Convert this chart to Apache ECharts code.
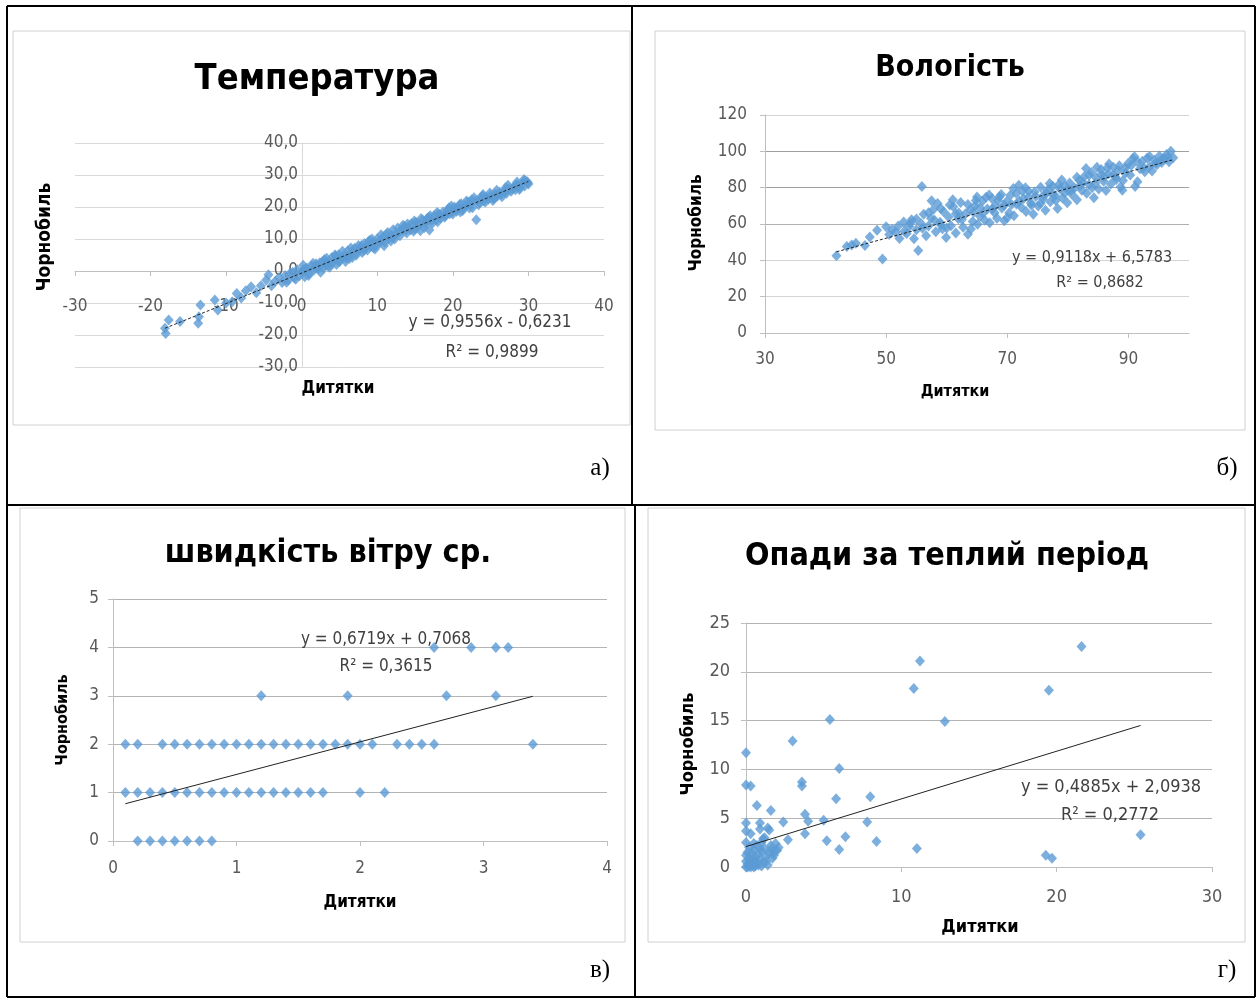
<!DOCTYPE html>
<html>
<head>
<meta charset="utf-8">
<title>Дитятки — Чорнобиль</title>
<script src="https://cdn.jsdelivr.net/npm/echarts@6/dist/echarts.min.js"></script>
<style>
html, body { margin: 0; padding: 0; background: #fff; }
#main { width: 1258px; height: 999px; }
</style>
</head>
<body>
<div id="main"></div>
<script>
// points: [Дитятки, Чорнобиль]
var tempPoints = [
  [-18.1,-17.9],[-18.0,-19.5],[-17.6,-15.3],[-16.1,-15.8],[-13.7,-16.3],[-13.6,-14.3],[-13.4,-10.6],[-11.5,-9.1],
  [-11.1,-12.2],[-10.0,-10.0],[-9.2,-9.6],[-8.6,-7.0],[-8.0,-8.4],[-7.4,-6.2],[-6.7,-4.9],[-6.0,-6.8],[-5.4,-4.6],
  [-4.7,-2.8],[-4.4,-1.2],[-4.0,-4.6],[-3.5,-3.2],[-3.0,-2.0],[-2.6,-3.6],[-2.2,-1.4],[-1.8,-2.9],[-1.5,-0.6],
  [-1.0,-2.1],[-0.6,0.4],[-0.3,-1.5],[0.0,-0.2],[0.2,1.8],[0.4,-1.8],[0.7,0.9],[1.0,-0.8],[1.3,1.6],[1.6,0.2],
  [1.9,2.3],[2.2,0.8],[2.5,-0.4],[2.8,3.0],[3.1,1.9],[3.4,2.6],[3.7,1.2],[4.0,4.2],[4.3,3.1],[4.6,2.0],[4.9,5.1],
  [5.2,3.8],[5.5,4.6],[5.8,3.0],[6.1,6.3],[6.4,5.0],[6.7,4.2],[7.0,7.1],[7.3,5.8],[7.6,6.9],[7.9,8.0],[8.2,6.4],
  [8.5,7.4],[8.8,9.1],[9.1,7.6],[9.4,8.8],[9.7,6.9],[10.0,10.1],[10.3,8.7],[10.6,9.8],[10.9,7.9],[11.2,11.6],
  [11.5,10.1],[11.8,9.4],[12.1,12.9],[12.4,11.3],[12.7,13.4],[13.0,11.0],[13.3,12.8],[13.6,14.0],[13.9,11.9],
  [14.2,13.6],[14.5,14.8],[14.8,12.4],[15.1,15.2],[15.4,13.9],[15.7,12.6],[16.0,15.9],[16.3,14.7],[16.6,16.4],
  [16.9,12.8],[17.2,15.8],[17.5,17.2],[17.8,16.0],[18.1,17.9],[18.4,16.6],[18.7,18.4],[19.0,17.3],[19.3,19.1],
  [19.6,17.9],[19.9,18.6],[20.2,20.0],[20.5,18.7],[20.8,19.8],[21.1,21.0],[21.4,19.6],[21.7,20.4],[22.0,21.6],
  [22.3,20.9],[22.6,19.8],[23.1,16.0],[23.2,22.1],[23.5,21.3],[23.8,22.6],[24.1,21.9],[24.4,23.0],[24.7,22.4],
  [25.0,23.5],[25.3,22.0],[25.6,24.0],[25.9,23.4],[26.2,24.6],[26.5,23.2],[26.8,25.0],[27.1,24.3],[27.4,25.6],
  [27.7,24.9],[28.0,26.2],[28.3,25.4],[28.6,26.8],[28.9,26.0],[29.2,27.4],[29.5,26.6],[29.8,28.0],[30.0,27.2],
  [0.5,0.6],[1.5,2.4],[2.0,1.4],[3.0,3.6],[3.5,1.6],[4.5,4.8],[5.0,2.9],[6.0,4.4],[6.5,7.2],[7.5,8.0],[8.0,5.8],
  [9.0,9.6],[9.5,7.3],[10.5,11.3],[11.0,9.0],[12.0,10.4],[13.5,13.2],[14.0,14.7],[15.0,13.1],[16.5,15.2],
  [17.0,17.3],[18.0,15.4],[19.5,19.8],[20.0,17.8],[21.0,18.4],[22.5,22.3],[24.0,23.9],[25.5,23.0],[27.0,26.1],
  [28.5,27.8],[29.5,28.2],
  [-2.0,-3.5],[-1.2,-0.4],[-0.8,-2.6],[0.3,0.5],[0.9,-1.4],[1.8,1.0],[2.4,2.6],[2.9,0.9],[3.3,4.0],[3.9,2.3],
  [4.4,5.0],[4.8,3.2],[5.4,6.2],[5.9,4.1],[6.3,3.9],[6.8,6.0],[7.2,4.9],[7.8,7.4],[8.3,8.6],[8.7,6.6],[9.3,10.0],
  [9.8,8.0],[10.2,9.2],[10.8,10.6],[11.4,12.0],[11.9,11.2],[12.3,10.0],[12.9,12.3],[13.4,14.3],[13.8,12.8],
  [14.4,12.9],[14.9,15.6],[15.3,14.6],[15.8,16.4],[16.2,13.5],[16.8,16.8],[17.3,14.9],[17.9,18.3],[18.3,17.6],
  [18.9,16.8],[19.2,18.3],[19.8,20.3],[20.4,19.3],[20.9,20.8],[21.3,18.9],[21.8,21.9],[22.2,19.7],[22.8,22.9],
  [23.4,20.7],[23.9,23.4],[24.3,21.6],[24.9,24.4],[25.4,22.6],[25.8,25.2],[26.4,24.0],[26.9,24.5],[27.3,26.8],
  [27.9,25.6],[28.4,27.0],[28.8,25.5],[29.4,28.6],[29.9,27.6]
];
var tempTrend = [[-18.1, -17.9], [30.0, 28.0]];

var humPoints = [
  [41.8,42.5],[43.5,47.6],[44.3,48.5],[45.0,49.4],[46.5,48.2],[47.3,52.8],[48.5,56.5],[49.4,40.8],[50.5,54.2],
  [51.0,57.0],[51.6,55.6],[52.2,52.0],[52.9,61.1],[53.4,54.8],[53.8,58.6],[54.2,62.3],[54.6,51.9],[55.0,56.8],
  [55.3,45.4],[55.9,80.6],[55.8,60.2],[56.2,65.4],[56.6,53.5],[57.0,58.9],[57.4,63.2],[57.8,68.0],[58.2,55.7],
  [58.5,71.3],[58.9,61.0],[59.3,57.4],[59.5,66.7],[59.9,52.6],[60.3,63.8],[60.7,59.1],[61.1,69.5],[61.5,55.0],
  [61.9,62.9],[62.3,71.8],[62.7,58.2],[63.1,65.7],[63.5,54.4],[63.9,67.9],[64.3,61.4],[64.7,70.1],[65.1,59.8],
  [65.5,64.3],[65.9,72.6],[66.3,62.0],[66.7,68.3],[67.1,60.7],[67.5,73.9],[67.9,66.2],[68.3,63.1],[68.7,75.0],
  [69.1,68.8],[69.5,61.8],[69.9,72.4],[70.3,66.0],[70.7,70.7],[71.1,64.5],[71.5,76.8],[71.9,81.3],[72.3,69.2],
  [72.7,74.1],[73.1,66.9],[73.5,78.0],[73.9,71.6],[74.3,65.3],[74.7,75.2],[75.1,69.9],[75.5,80.2],[75.9,73.7],
  [76.3,67.6],[76.7,78.9],[77.1,72.2],[77.5,80.8],[77.9,75.6],[78.3,68.5],[78.7,79.4],[79.1,74.3],[79.5,77.0],
  [79.9,71.7],[80.3,82.6],[80.7,76.2],[81.1,79.8],[81.5,73.4],[81.9,84.1],[82.3,78.6],[82.7,86.0],[83.1,76.9],
  [83.5,81.7],[83.9,88.4],[84.3,74.5],[84.7,85.3],[85.1,79.2],[85.5,90.0],[85.9,83.5],[86.3,78.4],[86.7,87.6],
  [87.1,82.0],[87.5,91.2],[87.9,85.7],[88.3,89.5],[88.7,80.3],[89.1,83.9],[89.5,88.1],[89.9,93.2],[90.3,87.0],
  [90.7,95.9],[91.1,80.6],[91.5,83.3],[91.9,90.4],[92.3,94.6],[92.7,88.8],[93.1,96.3],[93.5,91.7],[93.9,89.2],
  [94.3,95.1],[94.7,92.6],[95.1,97.4],[95.5,93.8],[95.9,96.0],[96.3,98.2],[96.7,94.2],[97.0,100.0],[97.4,96.4],
  [60.0,57.8],[62.0,66.0],[64.0,57.2],[66.0,65.9],[68.0,70.0],[70.0,63.5],[72.0,72.7],[74.0,70.3],[76.0,75.8],
  [78.0,73.0],[80.0,79.0],[82.0,81.2],[84.0,80.0],[86.0,86.0],[88.0,84.5],[57.5,72.8],[59.0,68.5],[61.0,73.4],
  [65.0,74.8],[67.0,76.0],[71.0,79.5],[77.0,82.3],[83.0,90.5],[89.0,78.6],[91.0,97.0],
  [50.0,58.5],[52.0,58.9],[53.0,56.0],[54.0,60.4],[55.0,62.8],[56.0,57.6],[57.0,66.2],[58.0,62.0],[59.0,59.6],
  [60.5,70.5],[61.5,65.6],[62.5,62.5],[63.5,70.8],[64.5,66.6],[65.5,68.9],[66.5,74.7],[67.5,68.2],[68.5,72.9],
  [69.5,70.3],[70.5,75.8],[71.5,71.0],[72.5,78.2],[73.5,74.8],[74.5,77.6],[75.5,71.3],[76.5,77.0],[77.5,76.3],
  [78.5,81.6],[79.5,80.9],[80.5,78.4],[81.5,85.8],[82.5,82.8],[83.5,86.9],[84.5,82.5],[85.5,87.2],[86.5,90.8],
  [87.5,87.0],[88.5,92.0],[89.5,90.7],[90.5,92.3],[91.5,94.2],[92.5,91.0],[93.5,97.1],[94.5,93.6],[95.5,95.5],
  [96.5,96.8],[64.8,73.0],[69.0,76.3],[73.0,80.0],[79.0,84.2],[84.8,91.3],[86.8,93.0]
];
var humTrend = [[41.8, 44.7], [97.4, 95.4]];

var windPoints = [
  [0.1,2],[0.2,2],[0.4,2],[0.5,2],[0.6,2],[0.7,2],[0.8,2],[0.9,2],[1.0,2],[1.1,2],[1.2,2],[1.3,2],[1.4,2],
  [1.5,2],[1.6,2],[1.7,2],[1.8,2],[1.9,2],[2.0,2],[2.1,2],[2.3,2],[2.4,2],[2.5,2],[2.6,2],[3.4,2],
  [0.1,1],[0.2,1],[0.3,1],[0.4,1],[0.5,1],[0.6,1],[0.7,1],[0.8,1],[0.9,1],[1.0,1],[1.1,1],[1.2,1],[1.3,1],
  [1.4,1],[1.5,1],[1.6,1],[1.7,1],[2.0,1],[2.2,1],
  [0.2,0],[0.3,0],[0.4,0],[0.5,0],[0.6,0],[0.7,0],[0.8,0],
  [1.2,3],[1.9,3],[2.7,3],[3.1,3],
  [2.6,4],[2.9,4],[3.1,4],[3.2,4]
];
var windTrend = [[0.1, 0.77], [3.4, 2.99]];

var rainPoints = [
  [21.6,22.6],[11.2,21.1],[10.8,18.3],[19.5,18.1],[12.8,14.9],[5.4,15.1],[3.0,12.9],[0,11.7],[6.0,10.1],
  [0,8.4],[0.3,8.3],[3.6,8.7],[3.6,8.3],[0.7,6.3],[5.8,7.0],[8.0,7.2],[1.6,5.8],[3.8,5.4],
  [0,4.5],[0.9,4.5],[2.4,4.6],[4.0,4.7],[5.0,4.8],[7.8,4.6],[0,3.7],[0.3,3.4],[0.9,3.9],[1.4,4.0],[1.5,3.8],
  [3.8,3.4],[6.4,3.1],[25.4,3.3],[2.7,2.8],[5.2,2.7],[8.4,2.6],[6.0,1.8],[11.0,1.9],[19.3,1.2],[19.7,0.9],
  [1.1,2.9],[0.5,2.4],[1.6,2.2],[1.9,2.4],[2.1,2.0],[1.8,1.5],[1.4,0.2],
  [0,0],[0,0.6],[0,1.2],[0.1,0.3],[0.1,1.5],[0.2,0.1],[0.2,2.0],[0.3,0.6],[0.3,0],[0.4,0.2],[0.4,0.9],
  [0.5,0],[0.5,1.8],[0.6,1.0],[0.6,0.1],[0.7,0.4],[0.7,2.2],[0.8,1.3],[0.8,0.2],[0.9,0.8],[1.0,1.6],
  [1.0,0.1],[1.0,2.5],[1.1,0.5],[1.2,1.9],[1.2,3.0],[1.3,1.1],[1.5,1.4],[1.7,0.9],[1.8,1.2],[2.0,1.7],
  [0.2,0.8],[0.4,1.4],[0.6,0.5],[0.9,1.9],[1.3,0.6],[1.6,1.8],[0,2.5],[0.1,0]
];
var rainTrend = [[0, 2.09], [25.4, 14.5]];

var titles = ['Температура', 'Вологість', 'швидкість вітру ср.', 'Опади за теплий період'];
var equations = ['y = 0,9556x - 0,6231', 'y = 0,9118x + 6,5783', 'y = 0,6719x + 0,7068', 'y = 0,4885x + 2,0938'];
var rSquared = ['R² = 0,9899', 'R² = 0,8682', 'R² = 0,3615', 'R² = 0,2772'];
var panelLetters = ['а)', 'б)', 'в)', 'г)'];
var xName = 'Дитятки';
var yName = 'Чорнобиль';

var FONT = "'Liberation Sans Narrow', 'DejaVu Sans Condensed', 'Noto Sans', sans-serif";
var SERIF = "'Liberation Serif', 'DejaVu Serif', serif";
var BLUE = '#5b9bd5';

function text(x, y, str, size, opt) {
  opt = opt || {};
  return {
    type: 'text', x: x, y: y, rotation: opt.rot || 0, z: 10,
    style: {
      text: str, fill: opt.color || '#000',
      fontSize: size, fontWeight: opt.bold ? 'bold' : 'normal',
      fontFamily: opt.family || FONT,
      align: 'center', verticalAlign: 'middle'
    }
  };
}
function line(x1, y1, x2, y2) {
  return { type: 'line', z: 10, shape: { x1: x1, y1: y1, x2: x2, y2: y2 }, style: { stroke: '#000', lineWidth: 2 } };
}
function frame(x, y, w, h) {
  return { type: 'rect', z: 0, shape: { x: x, y: y, width: w, height: h }, style: { fill: 'none', stroke: '#d0d0d0', lineWidth: 1 } };
}
function comma(v) { return v.toFixed(1).replace('.', ','); }

function valAxis(grid, min, max, step, o) {
  return {
    type: 'value', gridIndex: grid, min: min, max: max, interval: step,
    offset: o.offset || 0,
    axisLine: { show: true, onZero: false, lineStyle: { color: o.lineColor || '#bfbfbf' } },
    axisTick: { show: o.tick !== false, length: 5, lineStyle: { color: '#bfbfbf' } },
    axisLabel: {
      margin: o.margin, color: '#595959', fontSize: o.size, fontFamily: FONT,
      formatter: o.formatter, showMaxLabel: o.showMax !== false, showMinLabel: true
    },
    splitLine: { show: !!o.split, lineStyle: { color: o.split || '#d9d9d9', width: 1 } }
  };
}

var option = {
  animation: false,
  backgroundColor: '#fff',
  grid: [
    { left: 75, top: 143, width: 529, height: 224 },
    { left: 765, top: 115, width: 424, height: 218 },
    { left: 113, top: 599, width: 494, height: 242 },
    { left: 746, top: 623, width: 466, height: 244 }
  ],
  xAxis: [
    // Температура: the axes cross at zero, moved there with offset
    valAxis(0, -30, 40, 10, { offset: -96, margin: 27, size: 17 }),
    valAxis(1, 30, 100, 20, { margin: 18, size: 17, showMax: false }),
    valAxis(2, 0, 4, 1, { margin: 19, size: 17 }),
    valAxis(3, 0, 30, 10, { margin: 21, size: 18 })
  ],
  yAxis: [
    valAxis(0, -30, 40, 10, { offset: -227, margin: 4, size: 17, tick: false, lineColor: '#d9d9d9', split: '#d9d9d9', formatter: comma }),
    valAxis(1, 0, 120, 20, { margin: 18, size: 17,
      split: ['#d4d4d4', '#d4d4d4', '#d4d4d4', '#b0b0b0', '#a0a0a0', '#a0a0a0', '#d4d4d4'] }),
    valAxis(2, 0, 5, 1, { margin: 14, size: 17, split: '#b4b4b4' }),
    valAxis(3, 0, 25, 5, { margin: 16, size: 18, split: '#b4b4b4' })
  ],
  series: [
    { type: 'scatter', xAxisIndex: 0, yAxisIndex: 0, data: tempPoints, symbol: 'diamond', symbolSize: [10, 11], itemStyle: { color: BLUE } },
    { type: 'line', xAxisIndex: 0, yAxisIndex: 0, data: tempTrend, symbol: 'none', z: 3, lineStyle: { color: '#222', width: 1, type: [3, 2] } },
    { type: 'scatter', xAxisIndex: 1, yAxisIndex: 1, data: humPoints, symbol: 'diamond', symbolSize: [10, 11], itemStyle: { color: BLUE } },
    { type: 'line', xAxisIndex: 1, yAxisIndex: 1, data: humTrend, symbol: 'none', z: 3, lineStyle: { color: '#222', width: 1, type: [3, 2] } },
    { type: 'scatter', xAxisIndex: 2, yAxisIndex: 2, data: windPoints, symbol: 'diamond', symbolSize: [10, 11], itemStyle: { color: BLUE } },
    { type: 'line', xAxisIndex: 2, yAxisIndex: 2, data: windTrend, symbol: 'none', z: 3, lineStyle: { color: '#222', width: 1 } },
    { type: 'scatter', xAxisIndex: 3, yAxisIndex: 3, data: rainPoints, symbol: 'diamond', symbolSize: [10, 11], itemStyle: { color: BLUE } },
    { type: 'line', xAxisIndex: 3, yAxisIndex: 3, data: rainTrend, symbol: 'none', z: 3, lineStyle: { color: '#222', width: 1 } }
  ],
  graphic: [
    // chart frames
    frame(13, 31, 617, 394), frame(655, 31, 590, 399), frame(20, 508, 605, 434), frame(648, 508, 597, 434),
    // table
    line(7, 6, 1255, 6), line(7, 505, 1255, 505), line(7, 997, 1255, 997),
    line(7, 6, 7, 997), line(1255, 6, 1255, 997), line(632, 6, 632, 505), line(635, 505, 635, 997),
    // titles
    text(317, 80, titles[0], 36, { bold: true }),
    text(950, 68, titles[1], 30, { bold: true }),
    text(328, 554, titles[2], 32, { bold: true }),
    text(947, 557, titles[3], 32, { bold: true }),
    // axis names
    text(45, 237, yName, 19, { bold: true, rot: Math.PI / 2 }),
    text(338, 389, xName, 17, { bold: true }),
    text(697, 223, yName, 17, { bold: true, rot: Math.PI / 2 }),
    text(955, 392, xName, 16, { bold: true }),
    text(63, 720, yName, 16, { bold: true, rot: Math.PI / 2 }),
    text(360, 903, xName, 17, { bold: true }),
    text(688, 744, yName, 18, { bold: true, rot: Math.PI / 2 }),
    text(980, 927, xName, 18, { bold: true }),
    // trend equations
    text(490, 323, equations[0], 17, { color: '#404040' }),
    text(492, 353, rSquared[0], 17, { color: '#404040' }),
    text(1092, 258, equations[1], 16, { color: '#404040' }),
    text(1100, 283, rSquared[1], 16, { color: '#404040' }),
    text(386, 640, equations[2], 17, { color: '#404040' }),
    text(386, 667, rSquared[2], 17, { color: '#404040' }),
    text(1111, 787, equations[3], 18, { color: '#404040' }),
    text(1110, 815, rSquared[3], 18, { color: '#404040' }),
    // panel letters
    text(600, 468, panelLetters[0], 25, { family: SERIF }),
    text(1227, 468, panelLetters[1], 25, { family: SERIF }),
    text(600, 970, panelLetters[2], 25, { family: SERIF }),
    text(1227, 970, panelLetters[3], 25, { family: SERIF })
  ]
};

var chart = echarts.init(document.getElementById('main'));
chart.setOption(option);
</script>
</body>
</html>
